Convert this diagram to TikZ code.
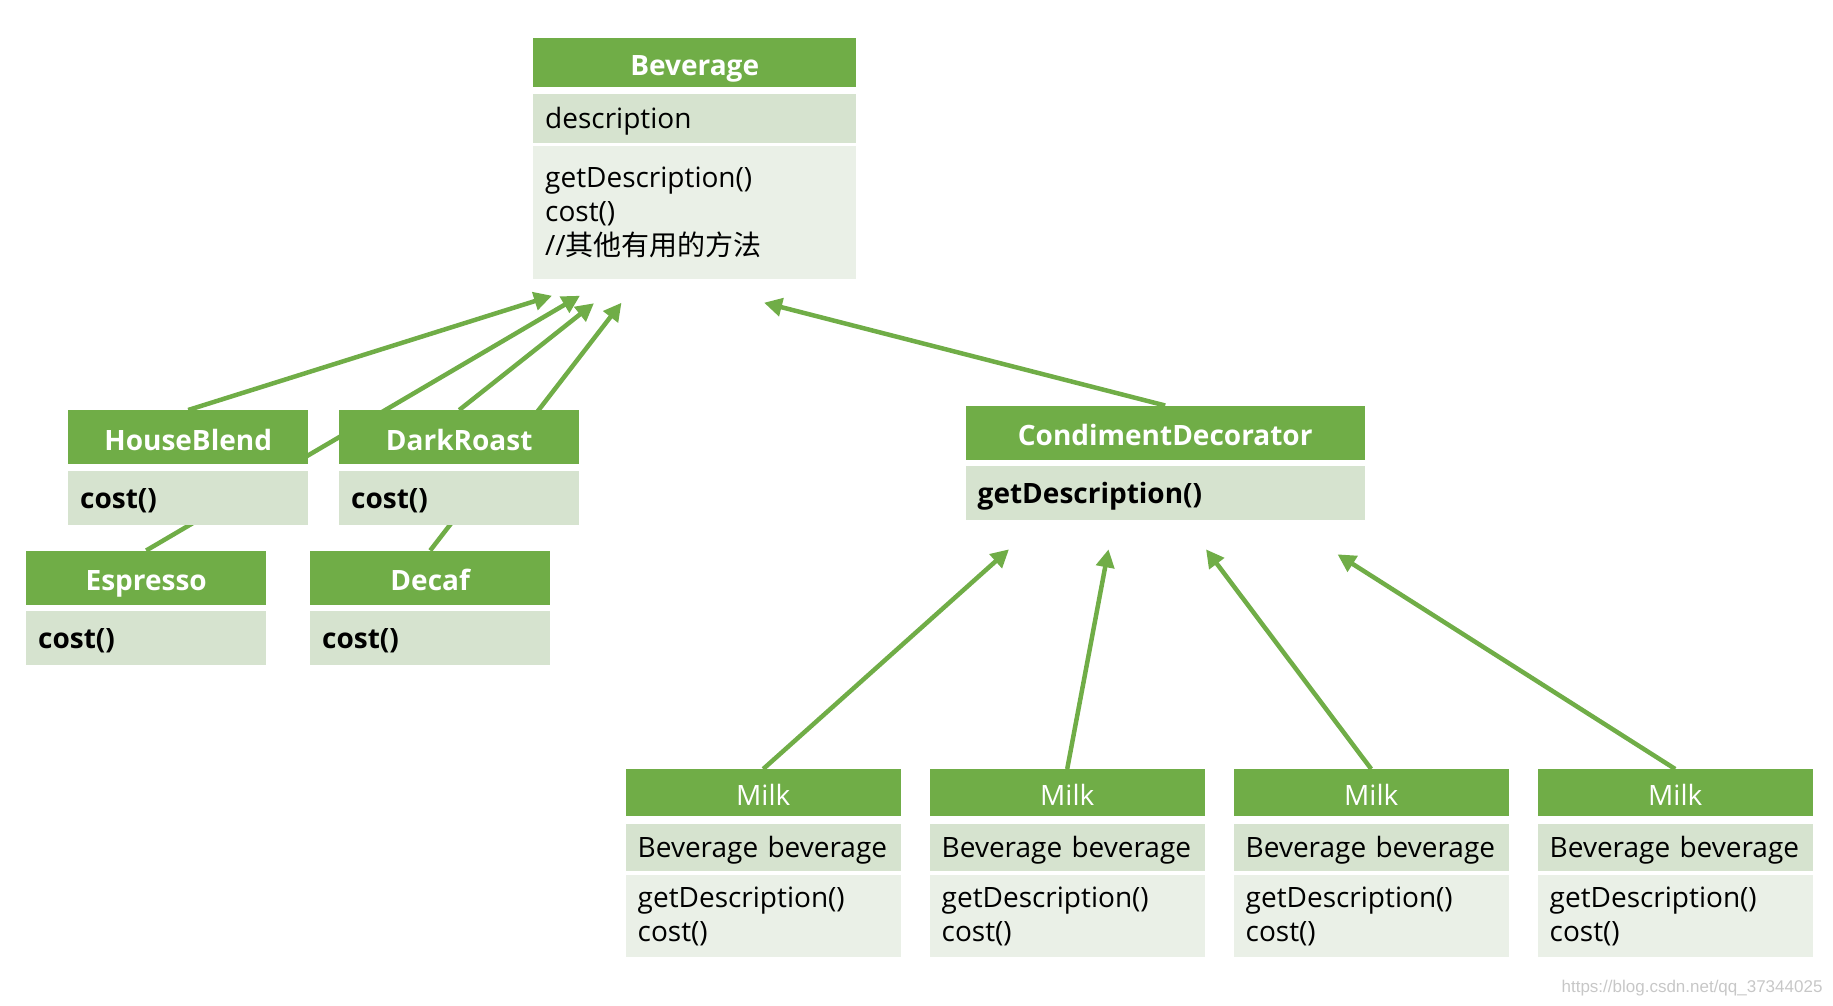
\documentclass[tikz,border=0pt]{standalone}
\usepackage{fontspec}
\setmainfont{Open Sans}
\newfontfamily\cjk{Noto Sans CJK SC}
\newfontfamily\markfont{Liberation Sans}
\definecolor{umlgreen}{RGB}{112,173,71}
\definecolor{umlband}{RGB}{214,227,207}
\definecolor{umlpale}{RGB}{234,240,231}
\usetikzlibrary{arrows.meta, positioning, backgrounds}
\tikzset{
  classfont/.style={font=\fontsize{28}{34}\selectfont},
  heavy/.style={font=\fontsize{28}{34}\selectfont\bfseries},
  hdr/.style 2 args={fill=umlgreen, text=white, classfont, text width=#1, minimum height=#2,
    align=center, inner xsep=12pt, inner ysep=0pt, text height=30pt, text depth=4pt},
  band/.style 2 args={fill=umlband, text=black, classfont, text width=#1, minimum height=#2,
    align=left, inner xsep=12pt, inner ysep=0pt, text height=24pt, text depth=3pt},
  pale/.style 2 args={fill=umlpale, text=black, classfont, text width=#1, minimum height=#2,
    align=left, inner xsep=12pt, inner ysep=0pt},
  inh/.style={draw=umlgreen, line width=4.5pt, -{Triangle[length=18pt, width=18pt]}}
}

\begin{document}
\begin{tikzpicture}[x=1pt, y=-1pt]
  \useasboundingbox (0,0) rectangle (1833,1005);

  \node[hdr={299pt}{49pt}, heavy, anchor=north west] (bev) at (533,38) {Beverage};
  \node[band={299pt}{49pt}, below=6pt of bev] (bevd) {description};
  \node[pale={299pt}{133pt}, below=2.5pt of bevd] (bevm)
    {getDescription()\\cost()\\//{\cjk 其他有用的方法}};

  \node[hdr={216pt}{54pt}, heavy, anchor=north west] (hb) at (68,410) {HouseBlend};
  \node[band={216pt}{54pt}, heavy, below=6.5pt of hb] (hbc) {cost()};
  \node[hdr={216pt}{54pt}, heavy, anchor=north west] (dr) at (339,410) {DarkRoast};
  \node[band={216pt}{54pt}, heavy, below=6.5pt of dr] (drc) {cost()};
  \node[hdr={216pt}{54pt}, heavy, anchor=north west] (esp) at (26,550.5) {Espresso};
  \node[band={216pt}{54pt}, heavy, below=6pt of esp] (espc) {cost()};
  \node[hdr={216pt}{54pt}, heavy, anchor=north west] (dec) at (310,550.5) {Decaf};
  \node[band={216pt}{54pt}, heavy, below=6pt of dec] (decc) {cost()};

  \node[hdr={375pt}{54pt}, heavy, anchor=north west] (cd) at (965.5,405.5) {CondimentDecorator};
  \node[band={375pt}{54pt}, heavy, below=6pt of cd] (cdd) {getDescription()};

  \foreach \i/\x in {1/625.5, 2/929.5, 3/1233.5, 4/1537.5} {
    \node[hdr={251pt}{47pt}, anchor=north west] (milk\i) at (\x,769) {Milk};
    \node[band={251pt}{47pt}, below=7pt of milk\i] (milkf\i) {Beverage beverage};
    \node[pale={251pt}{82pt}, below=4pt of milkf\i] (milkm\i) {getDescription()\\cost()};
  }

  \coordinate (tipA) at ([shift={(19,17)}]bevm.south west);
  \coordinate (tipB) at ([shift={(47,17)}]bevm.south west);
  \coordinate (tipC) at ([shift={(61,24.5)}]bevm.south west);
  \coordinate (tipD) at ([shift={(88.5,24)}]bevm.south west);
  \coordinate (tipE) at ([shift={(231,24)}]bevm.south west);
  \coordinate (tip1) at ([shift={(43.5,29)}]cdd.south west);
  \coordinate (tip2) at ([shift={(143,29)}]cdd.south west);
  \coordinate (tip3) at ([shift={(240.5,29)}]cdd.south west);
  \coordinate (tip4) at ([shift={(372,34)}]cdd.south west);

  \begin{scope}[on background layer]
    \draw[inh] (hb.north) -- (tipA);
    \draw[inh] (esp.north) -- (tipB);
    \draw[inh] (dr.north) -- (tipC);
    \draw[inh] (dec.north) -- (tipD);
    \draw[inh] (cd.north) -- (tipE);
    \foreach \i in {1,...,4}
      \draw[inh] (milk\i.north) -- (tip\i);
    \fill[white] (hb.north west) rectangle (hbc.south east);
    \fill[white] (dr.north west) rectangle (drc.south east);
  \end{scope}

  \node[font=\markfont\fontsize{17}{17}\selectfont, text=black!22, anchor=east] (mark)
    at (1826,988) {https://blog.csdn.net/qq\_37344025};
\end{tikzpicture}
\end{document}
